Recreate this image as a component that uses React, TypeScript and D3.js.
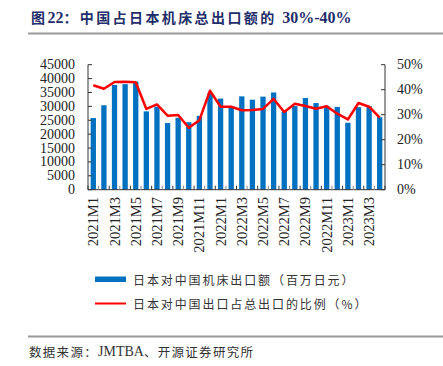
import { useEffect, useRef } from "react";
import * as d3 from "d3";

const months = [
  "2021M1", "2021M2", "2021M3", "2021M4", "2021M5", "2021M6", "2021M7", "2021M8", "2021M9", "2021M10", "2021M11", "2021M12",
  "2022M1", "2022M2", "2022M3", "2022M4", "2022M5", "2022M6", "2022M7", "2022M8", "2022M9", "2022M10", "2022M11", "2022M12",
  "2023M1", "2023M2", "2023M3", "2023M4",
];

// 日本对中国机床出口额（百万日元）
const exportValue = [
  25800, 30400, 37700, 38000, 38900, 28200, 29900, 24000, 25900, 24300, 26600, 34800,
  32800, 30000, 33600, 32400, 33500, 35000, 28100, 30100, 33000, 31200, 30200, 29800,
  24100, 29700, 30100, 26100,
];

// 日本对中国出口占总出口的比例（%）
const shareOfTotal = [
  41.8, 40.4, 43.1, 43.2, 43.0, 32.3, 34.1, 29.6, 29.9, 24.8, 27.8, 39.6,
  33.2, 33.2, 31.8, 31.9, 32.3, 36.3, 31.1, 34.4, 33.5, 32.4, 33.4, 30.4,
  28.1, 34.7, 33.2, 28.8,
];

const leftTicks = [0, 5000, 10000, 15000, 20000, 25000, 30000, 35000, 40000, 45000];
const rightTicks = [0, 10, 20, 30, 40, 50];

// text pieces: [text, isLatin]
const titleParts: [string, boolean][] = [["图", false], ["22", true], ["：中国占日本机床总出口额的 ", false], ["30%-40%", true]];
const legendBar = "日本对中国机床出口额（百万日元）";
const legendLine = "日本对中国出口占总出口的比例（%）";
const sourceParts: [string, boolean][] = [["数据来源：", false], ["JMTBA", true], ["、开源证券研究所", false]];

const W = 443;
const H = 366;
const serif = "'Liberation Serif', 'Times New Roman', serif";
const cjk = "'Noto Sans CJK SC', 'Liberation Serif', serif";

export default function App() {
  const svgRef = useRef<SVGSVGElement | null>(null);

  useEffect(() => {
    const svg = d3.select(svgRef.current);
    svg.selectAll("*").remove();

    const left = 88;
    const right = 385;
    const top = 64.7;
    const bottom = 189.7;

    const x = d3.scaleBand<string>().domain(months).range([left, right]).paddingInner(0.5).paddingOuter(0.25);
    const step = (right - left) / months.length;
    const yL = d3.scaleLinear().domain([0, 45000]).range([bottom, top]);
    const yR = d3.scaleLinear().domain([0, 50]).range([bottom, top]);
    const cx = (m: string) => (x(m) ?? 0) + x.bandwidth() / 2;

    // title
    const tt = svg.append("text")
      .attr("x", 31).attr("y", 23)
      .attr("font-weight", "bold")
      .attr("font-size", 14)
      .attr("fill", "#1f2f6b");
    titleParts.forEach(([s, latin]) => {
      tt.append("tspan")
        .attr("font-family", latin ? serif : cjk)
        .attr("font-size", latin ? 16 : 14)
        .attr("letter-spacing", latin ? 0 : 2.4)
        .text(s);
    });
    svg.append("line")
      .attr("x1", 28).attr("x2", W).attr("y1", 33.5).attr("y2", 33.5)
      .attr("stroke", "#9a9a9a").attr("stroke-width", 2);

    // bars
    svg.append("g").selectAll("rect")
      .data(exportValue)
      .enter()
      .append("rect")
      .attr("x", (_, i) => x(months[i]) ?? 0)
      .attr("y", (d) => yL(d))
      .attr("width", x.bandwidth())
      .attr("height", (d) => bottom - yL(d))
      .attr("fill", "#0070c0");

    // axes
    const axis = svg.append("g").attr("stroke", "#333").attr("stroke-width", 1);
    axis.append("line").attr("x1", left).attr("x2", left).attr("y1", top).attr("y2", bottom);
    axis.append("line").attr("x1", right).attr("x2", right).attr("y1", top).attr("y2", bottom);
    axis.append("line").attr("x1", left).attr("x2", right).attr("y1", bottom).attr("y2", bottom);

    leftTicks.forEach((t) => {
      axis.append("line").attr("x1", left).attr("x2", left + 4).attr("y1", yL(t)).attr("y2", yL(t));
      svg.append("text")
        .attr("x", 75).attr("y", yL(t))
        .attr("text-anchor", "end").attr("dominant-baseline", "central")
        .attr("font-family", serif).attr("font-size", 14).attr("fill", "#222")
        .text(String(t));
    });
    rightTicks.forEach((t) => {
      axis.append("line").attr("x1", right - 4).attr("x2", right).attr("y1", yR(t)).attr("y2", yR(t));
      svg.append("text")
        .attr("x", 397).attr("y", yR(t))
        .attr("text-anchor", "start").attr("dominant-baseline", "central")
        .attr("font-family", serif).attr("font-size", 14).attr("fill", "#222")
        .text(`${t}%`);
    });
    for (let i = 0; i <= months.length; i++) {
      const tx = left + i * step;
      axis.append("line").attr("x1", tx).attr("x2", tx).attr("y1", bottom - 4).attr("y2", bottom)
        .attr("stroke", i % 2 ? "#888" : "#333");
    }

    // x labels, every other month
    months.forEach((m, i) => {
      if (i % 2) return;
      svg.append("text")
        .attr("transform", `translate(${cx(m)},197) rotate(-90)`)
        .attr("text-anchor", "end").attr("dominant-baseline", "central")
        .attr("font-family", serif).attr("font-size", 14.5).attr("fill", "#222")
        .text(m);
    });

    // line
    const line = d3.line<number>()
      .x((_, i) => cx(months[i]))
      .y((d) => yR(d));
    svg.append("path")
      .datum(shareOfTotal)
      .attr("fill", "none")
      .attr("stroke", "#ff0000")
      .attr("stroke-width", 2.5)
      .attr("stroke-linejoin", "round")
      .attr("d", line);

    // legend
    svg.append("rect").attr("x", 95).attr("y", 276.5).attr("width", 31).attr("height", 5.5).attr("fill", "#0070c0");
    svg.append("text")
      .attr("x", 133).attr("y", 279.5).attr("dominant-baseline", "central")
      .attr("font-family", cjk).attr("font-size", 12).attr("letter-spacing", 1.9).attr("fill", "#333")
      .text(legendBar);
    svg.append("line").attr("x1", 95).attr("x2", 126).attr("y1", 303.5).attr("y2", 303.5)
      .attr("stroke", "#ff0000").attr("stroke-width", 2);
    svg.append("text")
      .attr("x", 133).attr("y", 303.5).attr("dominant-baseline", "central")
      .attr("font-family", cjk).attr("font-size", 12).attr("letter-spacing", 1.9).attr("fill", "#333")
      .text(legendLine);

    // source
    svg.append("line")
      .attr("x1", 28).attr("x2", W).attr("y1", 336.5).attr("y2", 336.5)
      .attr("stroke", "#9a9a9a").attr("stroke-width", 2);
    const st = svg.append("text")
      .attr("x", 29).attr("y", 351).attr("dominant-baseline", "central")
      .attr("fill", "#333");
    sourceParts.forEach(([s, latin]) => {
      st.append("tspan")
        .attr("font-family", latin ? serif : cjk)
        .attr("font-size", latin ? 14 : 12.5)
        .attr("letter-spacing", latin ? 0 : 1.3)
        .text(s);
    });
  }, []);

  return (
    <svg
      ref={svgRef}
      width={W}
      height={H}
      style={{ position: "absolute", left: 0, top: 0, background: "#fff" }}
    />
  );
}
